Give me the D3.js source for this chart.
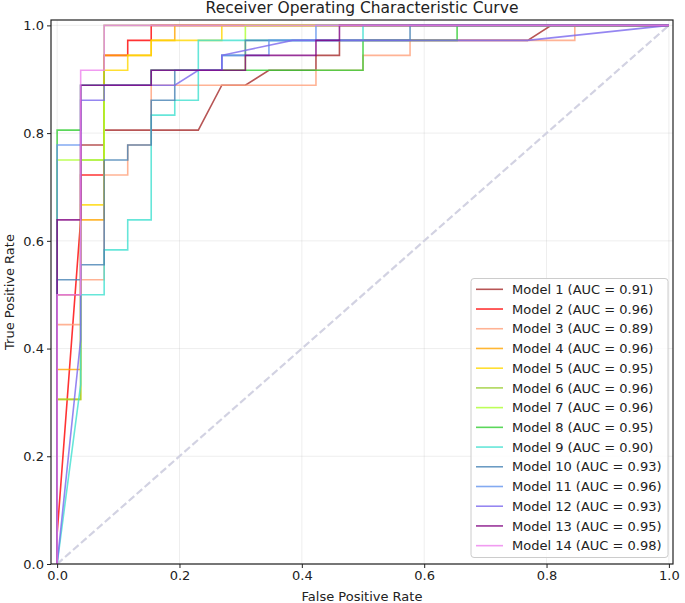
<!DOCTYPE html>
<html><head><meta charset="utf-8">
<script src="https://cdn.jsdelivr.net/npm/d3@7"></script>
<style>body{margin:0;background:#fff;} svg{display:block;font-family:"DejaVu Sans",sans-serif;}</style>
</head><body><svg id="chart" width="685" height="603"></svg>
<script>
// ---------- data ----------
const modelNames = ["Model 1","Model 2","Model 3","Model 4","Model 5","Model 6","Model 7",
  "Model 8","Model 9","Model 10","Model 11","Model 12","Model 13","Model 14"];
const aucValues = [0.91,0.96,0.89,0.96,0.95,0.96,0.96,0.95,0.90,0.93,0.96,0.93,0.95,0.98];
const lineColors = ["brown","red","lightsalmon","orange","gold","yellowgreen","greenyellow",
  "limegreen","turquoise","steelblue","cornflowerblue","mediumslateblue","purple","violet"];
const xTicks = [0.0,0.2,0.4,0.6,0.8,1.0];
const yTicks = [0.0,0.2,0.4,0.6,0.8,1.0];
const chanceFpr = [0,1];
const chanceTpr = [0,1];

const fpr1 = [0,0,0.0385,0.0385,0.0769,0.0769,0.2308,0.2692,0.3077,0.3462,0.4231,0.4231,0.4615,0.4615,0.7692,0.8077,1];
const tpr1 = [0,0.5,0.5,0.7778,0.7778,0.8056,0.8056,0.8889,0.8889,0.9167,0.9167,0.9444,0.9444,0.9722,0.9722,1,1];
const fpr2 = [0,0,0.0385,0.0385,0.0769,0.0769,0.1154,0.1154,0.1538,0.1538,1];
const tpr2 = [0,0.0556,0.6389,0.7222,0.7222,0.9444,0.9444,0.9722,0.9722,1,1];
const fpr3 = [0,0,0.0385,0.0385,0.0769,0.0769,0.1154,0.1154,0.1538,0.1538,0.4231,0.4231,0.5,0.5,0.5769,0.5769,0.8462,0.8462,1];
const tpr3 = [0,0.4444,0.4444,0.5278,0.5278,0.7222,0.7222,0.7778,0.7778,0.8889,0.8889,0.9167,0.9167,0.9444,0.9444,0.9722,0.9722,1,1];
const fpr4 = [0,0,0.0385,0.0385,0.0769,0.0769,0.1538,0.1538,0.1923,0.1923,1];
const tpr4 = [0,0.3611,0.3611,0.6389,0.6389,0.9444,0.9444,0.9722,0.9722,1,1];
const fpr5 = [0,0,0.0385,0.0385,0.0769,0.0769,0.1154,0.1154,0.1538,0.1538,0.2692,0.2692,1];
const tpr5 = [0,0.3056,0.3056,0.6667,0.6667,0.9167,0.9167,0.9444,0.9444,0.9722,0.9722,1,1];
const fpr6 = [0,0,0.0385,0.0385,0.0769,0.0769,1];
const tpr6 = [0,0.3056,0.3056,0.75,0.75,1,1];
const fpr7 = [0,0,0.0769,0.0769,0.1538,0.1538,0.3077,0.3077,1];
const tpr7 = [0,0.75,0.75,0.8889,0.8889,0.9167,0.9167,1,1];
const fpr8 = [0,0,0.0385,0.0385,0.1538,0.1538,0.5,0.5,0.6538,0.6538,1];
const tpr8 = [0,0.8056,0.8056,0.8889,0.8889,0.9167,0.9167,0.9722,0.9722,1,1];
const fpr9 = [0,0.0385,0.0385,0.0769,0.0769,0.1154,0.1154,0.1538,0.1538,0.1923,0.1923,0.2308,0.2308,0.5,0.5,1];
const tpr9 = [0,0.3333,0.5,0.5,0.5833,0.5833,0.6389,0.6389,0.8333,0.8333,0.8611,0.8611,0.9722,0.9722,1,1];
const fpr10 = [0,0,0.0385,0.0385,0.0769,0.0769,0.1154,0.1154,0.1538,0.1538,0.1923,0.1923,0.2692,0.2692,0.3077,0.3077,0.5769,0.5769,1];
const tpr10 = [0,0.5278,0.5278,0.5556,0.5556,0.75,0.75,0.7778,0.7778,0.8611,0.8611,0.9167,0.9167,0.9444,0.9444,0.9722,0.9722,1,1];
const fpr11 = [0,0,0.0385,0.0385,0.1538,0.1538,0.2692,0.2692,0.3462,0.3462,0.4231,0.4231,1];
const tpr11 = [0,0.7778,0.7778,0.8889,0.8889,0.9167,0.9167,0.9444,0.9444,0.9722,0.9722,1,1];
const fpr12 = [0,0.0385,0.0385,0.0769,0.0769,0.1923,0.2308,0.2692,0.2692,0.3846,0.7692,1];
const tpr12 = [0,0.4167,0.8611,0.8611,0.8889,0.8889,0.9167,0.9167,0.9444,0.9722,0.9722,1];
const fpr13 = [0,0,0.0385,0.0385,0.1538,0.1538,0.3077,0.3077,0.4231,0.4231,0.4615,0.4615,1];
const tpr13 = [0,0.6389,0.6389,0.8889,0.8889,0.9167,0.9167,0.9444,0.9444,0.9722,0.9722,1,1];
const fpr14 = [0,0,0.0385,0.0385,0.0769,0.0769,1];
const tpr14 = [0,0.5,0.5,0.9167,0.9167,1,1];

const fprList = [fpr1,fpr2,fpr3,fpr4,fpr5,fpr6,fpr7,fpr8,fpr9,fpr10,fpr11,fpr12,fpr13,fpr14];
const tprList = [tpr1,tpr2,tpr3,tpr4,tpr5,tpr6,tpr7,tpr8,tpr9,tpr10,tpr11,tpr12,tpr13,tpr14];

// ---------- layout ----------
const svg = d3.select("#chart");
const L = 51, R = 673, T = 20, B = 564;
const x = d3.scaleLinear().domain([-0.01, 1.0067]).range([L, R]);
const y = d3.scaleLinear().domain([0, 1.01]).range([B, T]);

svg.append("rect").attr("width",685).attr("height",603).attr("fill","#fff");

// grid
const grid = svg.append("g");
grid.selectAll("line.gx").data(xTicks).join("line")
  .attr("x1",d=>x(d)).attr("x2",d=>x(d)).attr("y1",T).attr("y2",B)
  .attr("stroke","#b0b0b0").attr("stroke-opacity",0.22).attr("stroke-width",1);
grid.selectAll("line.gy").data(yTicks).join("line")
  .attr("y1",d=>y(d)).attr("y2",d=>y(d)).attr("x1",L).attr("x2",R)
  .attr("stroke","#b0b0b0").attr("stroke-opacity",0.22).attr("stroke-width",1);

svg.append("clipPath").attr("id","clip").append("rect")
  .attr("x",L).attr("y",T).attr("width",R-L).attr("height",B-T);

const plot = svg.append("g").attr("clip-path","url(#clip)");

// chance diagonal
const line = d3.line().x(d=>x(d[0])).y(d=>y(d[1]));
plot.append("path").datum(chanceFpr.map((f,i)=>[f,chanceTpr[i]]))
  .attr("d",line).attr("fill","none")
  .attr("stroke","#d2d2e2").attr("stroke-width",2.2).attr("stroke-dasharray","7.4,3.2");

// ROC curves
fprList.forEach((fpr,k)=>{
  const pts = fpr.map((f,i)=>[f,tprList[k][i]]);
  plot.append("path").datum(pts).attr("d",line).attr("fill","none")
    .attr("stroke",lineColors[k]).attr("stroke-opacity",0.8).attr("stroke-width",1.6)
    .attr("stroke-linejoin","miter");
});

// axes
const xAxis = d3.axisBottom(x).tickValues(xTicks).tickFormat(d3.format(".1f")).tickSize(4).tickPadding(3);
const yAxis = d3.axisLeft(y).tickValues(yTicks).tickFormat(d3.format(".1f")).tickSize(4).tickPadding(3);
const gx = svg.append("g").attr("transform",`translate(0,${B})`).call(xAxis);
const gy = svg.append("g").attr("transform",`translate(${L},0)`).call(yAxis);
[gx,gy].forEach(g=>{
  g.select(".domain").remove();
  g.selectAll("line").attr("stroke","#222").attr("stroke-width",1);
  g.selectAll("text").attr("font-size",13).attr("fill","#222").attr("font-family","DejaVu Sans");
});

// frame
svg.append("rect").attr("x",L).attr("y",T).attr("width",R-L).attr("height",B-T)
  .attr("fill","none").attr("stroke","#222").attr("stroke-width",1.2);

// labels
svg.append("text").attr("x",(L+R)/2).attr("y",13).attr("text-anchor","middle")
  .attr("font-size",15.5).attr("fill","#222").text("Receiver Operating Characteristic Curve");
svg.append("text").attr("x",(L+R)/2).attr("y",601).attr("text-anchor","middle")
  .attr("font-size",13).attr("fill","#222").text("False Positive Rate");
svg.append("text").attr("transform",`translate(14,${(T+B)/2}) rotate(-90)`).attr("text-anchor","middle")
  .attr("font-size",13).attr("fill","#222").text("True Positive Rate");

// legend
const lg = svg.append("g");
lg.append("rect").attr("x",471).attr("y",278.5).attr("width",197).attr("height",279).attr("rx",3)
  .attr("fill","#fff").attr("fill-opacity",0.8).attr("stroke","#cccccc").attr("stroke-width",1);
modelNames.forEach((name,i)=>{
  const yy = 289.3 + i*19.72;
  lg.append("line").attr("x1",476).attr("x2",503).attr("y1",yy).attr("y2",yy)
    .attr("stroke",lineColors[i]).attr("stroke-opacity",0.8).attr("stroke-width",1.6);
  lg.append("text").attr("x",512).attr("y",yy).attr("dy","0.36em").attr("font-size",13)
    .attr("fill","#222").text(`${name} (AUC = ${aucValues[i].toFixed(2)})`);
});
</script></body></html>
